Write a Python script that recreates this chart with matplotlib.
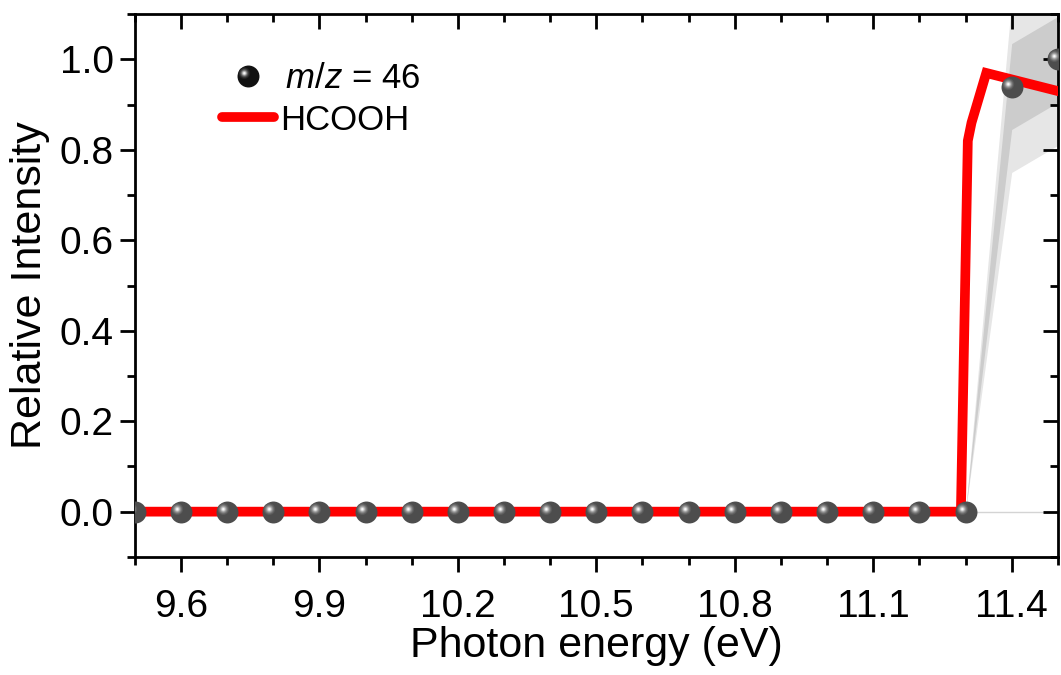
import numpy as np
import matplotlib
matplotlib.use("Agg")
import matplotlib.pyplot as plt
from matplotlib.path import Path
from matplotlib.markers import MarkerStyle
from matplotlib.ticker import MultipleLocator
from matplotlib.legend_handler import HandlerTuple

# data
energy = [9.5, 9.6, 9.7, 9.8, 9.9, 10.0, 10.1, 10.2, 10.3, 10.4, 10.5,
          10.6, 10.7, 10.8, 10.9, 11.0, 11.1, 11.2, 11.3, 11.4, 11.5]
signal = [0, 0, 0, 0, 0, 0, 0, 0, 0, 0, 0,
          0, 0, 0, 0, 0, 0, 0, 0, 0.94, 1.0]
sigma = [0, 0, 0, 0, 0, 0, 0, 0, 0, 0, 0,
         0, 0, 0, 0, 0, 0, 0, 0, 0.095, 0.095]

ref_energy = [9.5, 11.29, 11.305, 11.313, 11.345, 11.5]
ref_signal = [0.0, 0.0, 0.82, 0.86, 0.97, 0.93]

x_ticks = [9.6, 9.9, 10.2, 10.5, 10.8, 11.1, 11.4]
y_ticks = [0.0, 0.2, 0.4, 0.6, 0.8, 1.0]

plt.rcParams['font.family'] = ['Liberation Sans', 'DejaVu Sans']
plt.rcParams['mathtext.fontset'] = 'custom'
plt.rcParams['mathtext.rm'] = 'Liberation Sans'
plt.rcParams['mathtext.it'] = 'Liberation Sans:italic'


###
# glint
# offset circle marker, the shiny spot on the spheres
def glint(offset_pt, radius_pt):
    q = radius_pt / offset_pt
    path = Path.circle((-1.0, 0.8), q)
    ms = 2 * offset_pt * (1 + q)
    return MarkerStyle(path), ms


def sphere_handles(ax, x, y, base, layers, size=15.8, **kw):
    hs = []
    h, = ax.plot(x, y, ls='none', marker='o', ms=size, mfc=base, mec='none', **kw)
    hs.append(h)
    for r, col in layers:
        mk, ms = glint(3.0, r)
        h, = ax.plot(x, y, ls='none', marker=mk, ms=ms, mfc=col, mec='none', **kw)
        hs.append(h)
    return hs


gray_layers = [(4.2, '#5c5c5c'), (3.4, '#727272'), (2.7, '#8e8e8e'),
               (2.0, '#b0b0b0'), (1.4, '#d4d4d4'), (0.8, '#f8f8f8')]
black_layers = [(4.2, '#222222'), (3.4, '#3a3a3a'), (2.7, '#5e5e5e'),
                (2.0, '#909090'), (1.4, '#c4c4c4'), (0.8, '#f6f6f6')]

fig = plt.figure(figsize=(10.61, 6.75), dpi=100)
ax = fig.add_axes([0.127, 0.175, 0.870, 0.804])

e = np.array(energy)
s = np.array(signal)
d = np.array(sigma)

ax.axhline(0, color='#d4d4d4', lw=1.0, zorder=1)
ax.fill_between(e, s - 2 * d, s + 2 * d, color='#e6e6e6', lw=0, zorder=1)
ax.fill_between(e, s - d, s + d, color='#cccccc', lw=0, zorder=1.5)

ax.plot(ref_energy, ref_signal, color='#ff0000', lw=7, solid_joinstyle='miter', zorder=3)
sphere_handles(ax, energy, signal, '#4d4d4d', gray_layers, zorder=4)

ax.set_xlim(9.5, 11.5)
ax.set_ylim(-0.1, 1.1)
ax.set_xticks(x_ticks)
ax.set_yticks(y_ticks)
ax.xaxis.set_minor_locator(MultipleLocator(0.1))
ax.yaxis.set_minor_locator(MultipleLocator(0.1))
ax.set_xticklabels(['%.1f' % v for v in x_ticks])
ax.set_yticklabels(['%.1f' % v for v in y_ticks])

for sp in ax.spines.values():
    sp.set_linewidth(2)
ax.tick_params(which='both', direction='out', width=2, labelsize=28,
               top=True, right=True)
ax.tick_params(which='major', length=11)
ax.tick_params(which='minor', length=5.5)
ax.tick_params(axis='x', which='major', pad=12)
ax.tick_params(axis='y', which='major', pad=4)
# mirrored ticks point inward
for t in ax.xaxis.get_major_ticks() + ax.xaxis.get_minor_ticks():
    t.tick2line.set_marker(3)
for t in ax.yaxis.get_major_ticks() + ax.yaxis.get_minor_ticks():
    t.tick2line.set_marker(0)

ax.set_xlabel('Photon energy (eV)', fontsize=31, labelpad=1)
ax.set_ylabel('Relative Intensity', fontsize=31, labelpad=7)

# legend
pt_handles = sphere_handles(ax, [], [], '#111111', black_layers)
h_line, = ax.plot([], [], color='#ff0000', lw=7, solid_capstyle='round')

leg = ax.legend([tuple(pt_handles), h_line], ['$\\,m/z$ = 46', 'HCOOH'],
                handler_map={tuple: HandlerTuple(ndivide=1, pad=0)},
                loc='upper left', bbox_to_anchor=(0.094, 0.912), frameon=False,
                fontsize=25, handlelength=1.5, handletextpad=0.2,
                labelspacing=0.25, borderpad=0, borderaxespad=0)

fig.savefig('out.png', dpi=100)
